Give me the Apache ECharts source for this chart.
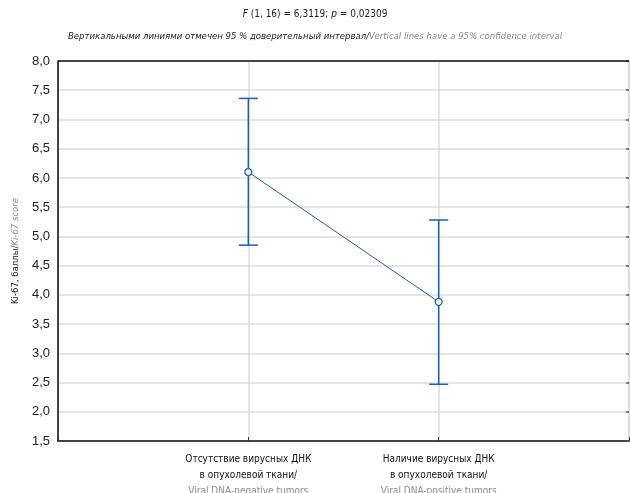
<!DOCTYPE html>
<html>
<head>
    <meta charset="utf-8">
    <title>Ki-67</title>
    <script src="https://cdn.jsdelivr.net/npm/echarts@6/dist/echarts.min.js"></script>
    <style>
        html, body { margin: 0; padding: 0; background: #fff; }
    </style>
</head>
<body>
    <div id="main" style="width: 630px;height:493px;"></div>
    <script type="text/javascript">
        // data
        var groupsRu = ['Отсутствие вирусных ДНК\nв опухолевой ткани/', 'Наличие вирусных ДНК\nв опухолевой ткани/'];
        var groupsEn = ['Viral DNA-negative tumors', 'Viral DNA-positive tumors'];
        var means = [6.10, 3.88];
        var ciLow = [4.85, 2.47];
        var ciHigh = [7.36, 5.28];

        var narrow = "'Liberation Sans Narrow', 'DejaVu Sans Condensed', sans-serif";
        var blue = '#1f5cab';

        var linePts = means.map(function (m, i) { return [i + 1, m]; });
        var barPts = means.map(function (m, i) { return [i + 1, ciLow[i], ciHigh[i]]; });

        var chart = echarts.init(document.getElementById('main'));
        var option = {
            animation: false,
            title: [{
                text: '{i|F} (1, 16) = 6,3119; {i|p} = 0,02309',
                left: 'center',
                top: 4,
                textStyle: {
                    fontFamily: narrow, fontSize: 10, fontWeight: 'normal', color: '#222',
                    rich: { i: { fontStyle: 'italic', fontFamily: narrow, fontSize: 10, color: '#222' } }
                }
            }, {
                text: '{a|Вертикальными линиями отмечен 95 % доверительный интервал/}{b|Vertical lines have a 95% confidence interval}',
                left: 'center',
                top: 27,
                textStyle: {
                    fontFamily: narrow, fontSize: 9.5, fontWeight: 'normal',
                    rich: {
                        a: { fontStyle: 'italic', fontFamily: narrow, fontSize: 9.5, color: '#222' },
                        b: { fontStyle: 'italic', fontFamily: narrow, fontSize: 9.5, color: '#8a8a8a' }
                    }
                }
            }],
            grid: { left: 58, right: 1, top: 61, bottom: 52, outerBoundsMode: 'none' },
            xAxis: {
                type: 'value',
                min: 0, max: 3, interval: 1,
                axisLine: { show: true, onZero: false, lineStyle: { color: '#111', width: 1.5 } },
                axisTick: { show: true, inside: true, length: 4, lineStyle: { color: '#333' } },
                splitLine: { show: true, lineStyle: { color: '#dcdcdc', width: 1.5 } },
                axisLabel: {
                    margin: 10,
                    lineHeight: 16,
                    fontFamily: narrow,
                    fontSize: 10,
                    color: '#111',
                    formatter: function (v) {
                        if (v === 1 || v === 2) {
                            return '{r|' + groupsRu[v - 1].split('\n').join('}\n{r|') + '}\n{e|' + groupsEn[v - 1] + '}';
                        }
                        return '';
                    },
                    rich: {
                        r: { fontFamily: narrow, fontSize: 10, color: '#111', lineHeight: 16 },
                        e: { fontFamily: narrow, fontSize: 10, color: '#8a8a8a', lineHeight: 16 }
                    }
                }
            },
            yAxis: [{
                type: 'value',
                min: 1.5, max: 8, interval: 0.5,
                name: '{a|Ki-67, баллы/}{b|Ki-67 score}',
                nameLocation: 'middle',
                nameGap: 37,
                nameTextStyle: {
                    rich: {
                        a: { fontFamily: narrow, fontSize: 9.5, color: '#222' },
                        b: { fontFamily: narrow, fontSize: 9.5, color: '#8a8a8a', fontStyle: 'italic' }
                    }
                },
                axisLine: { show: true, lineStyle: { color: '#111', width: 1.5 } },
                axisTick: { show: false },
                splitLine: { show: true, lineStyle: { color: '#dcdcdc', width: 1.5 } },
                axisLabel: {
                    margin: 8,
                    fontFamily: "'Liberation Sans', Arial, sans-serif",
                    fontSize: 13,
                    color: '#222',
                    formatter: function (v) { return v.toFixed(1).replace('.', ','); }
                }
            }, {
                type: 'value',
                position: 'right',
                min: 1.5, max: 8, interval: 0.5,
                axisLine: { show: true, lineStyle: { color: '#dcdcdc', width: 1.5 } },
                axisTick: { show: true, inside: true, length: 3, lineStyle: { color: '#555', width: 1.5 } },
                axisLabel: { show: false },
                splitLine: { show: false }
            }],
            graphic: [{
                type: 'line',
                shape: { x1: 58, y1: 61, x2: 629, y2: 61 },
                style: { stroke: '#111', lineWidth: 1.5 },
                z: 10
            }],
            series: [{
                type: 'custom',
                data: barPts,
                z: 3,
                renderItem: function (params, api) {
                    var lo = api.coord([api.value(0), api.value(1)]);
                    var hi = api.coord([api.value(0), api.value(2)]);
                    var cap = 9.5;
                    var st = { stroke: blue, lineWidth: 1.5 };
                    return {
                        type: 'group',
                        children: [
                            { type: 'line', shape: { x1: hi[0], y1: hi[1], x2: lo[0], y2: lo[1] }, style: st },
                            { type: 'line', shape: { x1: hi[0] - cap, y1: hi[1], x2: hi[0] + cap, y2: hi[1] }, style: st },
                            { type: 'line', shape: { x1: lo[0] - cap, y1: lo[1], x2: lo[0] + cap, y2: lo[1] }, style: st }
                        ]
                    };
                }
            }, {
                type: 'line',
                data: linePts,
                z: 4,
                symbol: 'circle',
                symbolSize: 7,
                showSymbol: true,
                lineStyle: { color: blue, width: 1 },
                itemStyle: { color: '#fff', borderColor: blue, borderWidth: 1.3 }
            }]
        };
        chart.setOption(option);
    </script>
</body>
</html>
